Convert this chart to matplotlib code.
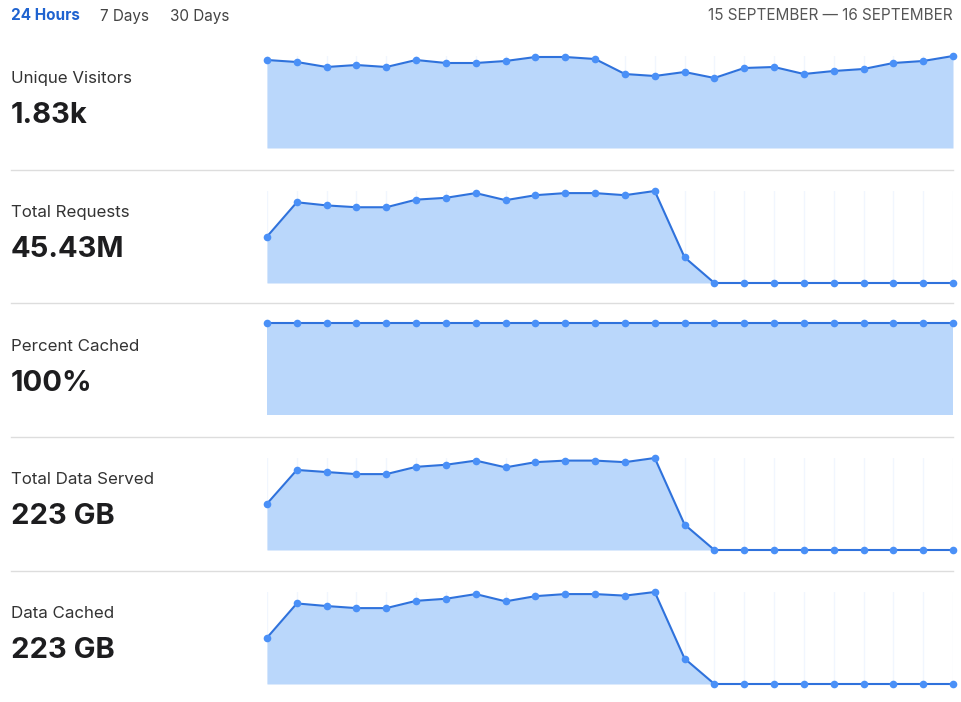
import matplotlib.pyplot as plt

plt.rcParams['font.family'] = ['Inter', 'DejaVu Sans']

# --- Data (hourly values over 24 hours) ---
hours = list(range(24))

metric_names = ["Unique Visitors", "Total Requests", "Percent Cached",
                "Total Data Served", "Data Cached"]
metric_totals = ["1.83k", "45.43M", "100%", "223 GB", "223 GB"]

unique_visitors = [88, 86, 81, 83, 81, 88, 85, 85, 87, 91, 91, 89,
                   74, 72, 76, 70, 80, 81, 74, 77, 79, 85, 87, 92]
total_requests = [1.77, 3.08, 2.96, 2.89, 2.89, 3.18, 3.25, 3.43, 3.16, 3.35, 3.43, 3.43,
                  3.35, 3.51, 0.98, 0, 0, 0, 0, 0, 0, 0, 0, 0]
percent_cached = [100] * 24
data_served = [8.9, 15.4, 15.0, 14.6, 14.6, 16.0, 16.4, 17.2, 15.9, 16.9, 17.2, 17.2,
               16.9, 17.7, 4.9, 0, 0, 0, 0, 0, 0, 0, 0, 0]
data_cached = [8.9, 15.5, 15.0, 14.6, 14.6, 16.0, 16.4, 17.3, 15.9, 16.9, 17.3, 17.3,
               17.0, 17.7, 4.9, 0, 0, 0, 0, 0, 0, 0, 0, 0]

series = [unique_visitors, total_requests, percent_cached, data_served, data_cached]

tabs = ["24 Hours", "7 Days", "30 Days"]
date_range = "15 SEPTEMBER \u2014 16 SEPTEMBER"

# --- Styling ---
W, H = 961, 702
LINE = "#2f72dc"
DOT = "#4a90f7"
FILL = "#bad7fb"
GRID = "#f1f6fe"
SEP = "#dddddd"

fig = plt.figure(figsize=(W / 100, H / 100), dpi=100)
fig.patch.set_facecolor("white")


def fy(y):
    return 1 - y / H


# header
tab_x = [11, 100, 170]
for i, (t, x) in enumerate(zip(tabs, tab_x)):
    if i == 0:
        fig.text(x / W, fy(16), t, fontsize=11, fontweight="bold", color="#1f63d0", va="center")
    else:
        fig.text(x / W, fy(16), t, fontsize=11, color="#444444", va="center")
fig.text(953 / W, fy(16), date_range, fontsize=11, color="#555555", va="center", ha="right")

panel_tops = [56, 191, 323, 458, 592]
panel_h = 92
x0, x1 = 267, 953

for k, (name, total, vals) in enumerate(zip(metric_names, metric_totals, series)):
    top = panel_tops[k]
    ax = fig.add_axes([x0 / W, fy(top + panel_h), (x1 - x0) / W, panel_h / H])
    for h in hours:
        ax.axvline(h, color=GRID, lw=1, zorder=0)
    ax.fill_between(hours, vals, 0, color=FILL, lw=0, zorder=1)
    ax.plot(hours, vals, color=LINE, lw=1.5, zorder=2, clip_on=False)
    ax.plot(hours, vals, "o", color=DOT, ms=5.5, mec="none", zorder=3, clip_on=False)
    ax.set_xlim(0, 23)
    ax.set_ylim(0, max(vals))
    ax.axis("off")

    label_y = 78.5 + 133.8 * k
    fig.text(11 / W, fy(label_y), name, fontsize=12.2, color="#333333", va="center")
    fig.text(11 / W, fy(label_y + 37), total, fontsize=21, fontweight="bold",
             color="#1d1d1f", va="center")

# separators between rows
for y in [170, 303, 437, 571]:
    fig.add_artist(plt.Line2D([11 / W, 953 / W], [fy(y), fy(y)], color=SEP, lw=1))

fig.savefig("out.png", dpi=100, facecolor="white")
